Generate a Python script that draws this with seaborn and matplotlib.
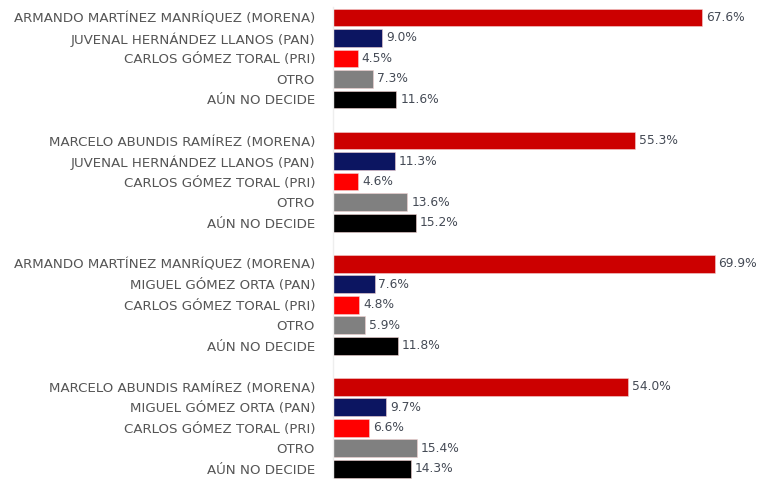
import matplotlib
matplotlib.use('Agg')
import numpy as np
import pandas as pd
import matplotlib.pyplot as plt
import seaborn as sns

# four scenarios, five answers each
scenario_labels = [
    ['ARMANDO MARTÍNEZ MANRÍQUEZ (MORENA)', 'JUVENAL HERNÁNDEZ LLANOS (PAN)',
     'CARLOS GÓMEZ TORAL (PRI)', 'OTRO', 'AÚN NO DECIDE'],
    ['MARCELO ABUNDIS RAMÍREZ (MORENA)', 'JUVENAL HERNÁNDEZ LLANOS (PAN)',
     'CARLOS GÓMEZ TORAL (PRI)', 'OTRO', 'AÚN NO DECIDE'],
    ['ARMANDO MARTÍNEZ MANRÍQUEZ (MORENA)', 'MIGUEL GÓMEZ ORTA (PAN)',
     'CARLOS GÓMEZ TORAL (PRI)', 'OTRO', 'AÚN NO DECIDE'],
    ['MARCELO ABUNDIS RAMÍREZ (MORENA)', 'MIGUEL GÓMEZ ORTA (PAN)',
     'CARLOS GÓMEZ TORAL (PRI)', 'OTRO', 'AÚN NO DECIDE'],
]
scenario_values = [
    [67.6, 9.0, 4.5, 7.3, 11.6],
    [55.3, 11.3, 4.6, 13.6, 15.2],
    [69.9, 7.6, 4.8, 5.9, 11.8],
    [54.0, 9.7, 6.6, 15.4, 14.3],
]
parties = ['MORENA', 'PAN', 'PRI', 'OTRO', 'NO DECIDE']
PALETTE = {
    'MORENA': '#cc0000',
    'PAN': '#0c1561',
    'PRI': '#ff0000',
    'OTRO': '#808080',
    'NO DECIDE': '#000000',
}

rows = []
order = []
tick_labels = []
for g, (labels, vals) in enumerate(zip(scenario_labels, scenario_values)):
    if g > 0:
        order.append(f'gap{g}')
        tick_labels.append('')
    for k, (lab, val) in enumerate(zip(labels, vals)):
        key = f's{g}_{k}'
        rows.append({'slot': key, 'pct': val, 'party': parties[k]})
        order.append(key)
        tick_labels.append(lab)
df = pd.DataFrame(rows)

sns.set_style('white')
plt.rcParams['font.family'] = ['DejaVu Sans']

fig = plt.figure(figsize=(7.73, 4.79), dpi=100)
ax = fig.add_axes([0.431, 0.0, 0.565, 0.985])

sns.barplot(data=df, x='pct', y='slot', hue='party', palette=PALETTE,
            order=order, dodge=False, width=0.87, legend=False, saturation=1,
            edgecolor='#f2d0d0', linewidth=0.4, ax=ax)

for p in ax.patches:
    w = p.get_width()
    if np.isnan(w) or w == 0:
        continue
    ax.text(w + 0.7, p.get_y() + p.get_height() / 2, f'{w:.1f}%',
            va='center', ha='left', fontsize=8.8, color='#444a55')

ax.set_xlim(0, 80)
ax.set_ylim(len(order) - 0.5, -0.5)
ax.set_yticks(range(len(order)))
ax.set_yticklabels(tick_labels, fontsize=9.6, color='#555555')
ax.tick_params(axis='y', length=0, pad=13)
ax.set_xticks([])
ax.set_xlabel('')
ax.set_ylabel('')
for s in ['top', 'right', 'bottom']:
    ax.spines[s].set_visible(False)
ax.spines['left'].set_color('#eeeeee')
ax.spines['left'].set_linewidth(1.0)

fig.savefig('out.png', dpi=100)
